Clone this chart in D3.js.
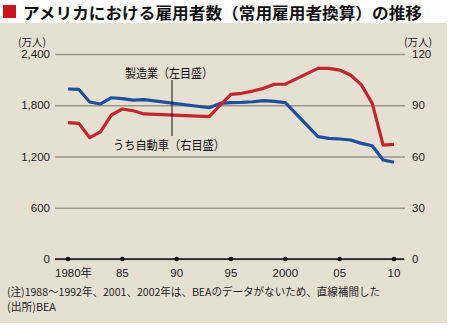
<!DOCTYPE html>
<html><head><meta charset="utf-8">
<script src="https://cdn.jsdelivr.net/npm/d3@7"></script>
<style>
body{margin:0;background:#fff;}
svg{display:block;font-family:"Liberation Sans","Noto Sans CJK JP",sans-serif;}
</style></head>
<body><svg id="c" width="450" height="328"></svg>
<script>
const years = [1980,1981,1982,1983,1984,1985,1986,1987,1993,1994,1995,1996,1997,1998,1999,2000,2003,2004,2005,2006,2007,2008,2009,2010];
const manufacturing = [1990,1985,1838,1815,1888,1877,1860,1865,1771,1822,1830,1834,1841,1854,1846,1830,1432,1413,1405,1393,1354,1326,1159,1132];
const automobile = [79.8,79.4,71,74.5,84.3,87.8,86.8,84.9,83.3,90,96.4,97,98.3,99.9,102.3,102.4,111.6,111.6,110.6,107.7,101.9,91.1,66.7,67.1];
const xTicks = [1980,1985,1990,1995,2000,2005,2010];
const xTickLabels = ["1980年","85","90","95","2000","05","10"];
const leftTicks = [0,600,1200,1800,2400];
const rightTicks = [0,30,60,90,120];
const title = "アメリカにおける雇用者数（常用雇用者換算）の推移";
const seriesLabels = ["製造業（左目盛）","うち自動車（右目盛）"];
const unitLabel = "(万人)";
const notes = ["(注)1988～1992年、2001、2002年は、BEAのデータがないため、直線補間した","(出所)BEA"];

const svg = d3.select("#c");
const jp = '"Noto Sans CJK JP",sans-serif';
// background panel
svg.append("rect").attr("x",0).attr("y",23).attr("width",447).attr("height",300).attr("fill","#e6e0d3");
// title
svg.append("rect").attr("x",3).attr("y",5).attr("width",13).attr("height",13).attr("fill","#c8171e");
svg.append("text").attr("x",23).attr("y",19).attr("font-family",jp).attr("font-weight","bold")
  .attr("font-size",16).attr("fill","#111")
  .attr("textLength",399).attr("lengthAdjust","spacingAndGlyphs").text(title);

const x = d3.scaleLinear().domain([1980,2010]).range([68,394]);
const yL = d3.scaleLinear().domain([0,2400]).range([259,54]);
const yR = d3.scaleLinear().domain([0,120]).range([259,54]);

// gridlines via left axis
const gl = svg.append("g").attr("transform","translate(55,0)")
  .call(d3.axisLeft(yL).tickValues(leftTicks).tickSize(-350).tickPadding(5).tickFormat(d3.format(",")));
gl.select(".domain").remove();
gl.selectAll(".tick line").attr("stroke","#9c958a").attr("stroke-width",1.5);
gl.selectAll(".tick text").attr("font-size",11.5).attr("fill","#222").attr("font-family","Liberation Sans,sans-serif");

const gr = svg.append("g").attr("transform","translate(405,0)")
  .call(d3.axisRight(yR).tickValues(rightTicks).tickSize(0).tickPadding(7));
gr.select(".domain").remove();
gr.selectAll(".tick text").attr("font-size",11.5).attr("fill","#222").attr("font-family","Liberation Sans,sans-serif");

// unit labels
svg.append("text").attr("x",18).attr("y",46).attr("font-family",jp).attr("font-size",10.5).attr("fill","#222").text(unitLabel);
svg.append("text").attr("x",404).attr("y",46).attr("font-family",jp).attr("font-size",10.5).attr("fill","#222").text(unitLabel);

// x axis
svg.append("line").attr("x1",55).attr("x2",404).attr("y1",yL(0)).attr("y2",yL(0)).attr("stroke","#111").attr("stroke-width",1.3);
svg.selectAll(".xdot").data(xTicks).join("circle").attr("cx",d=>x(d)).attr("cy",yL(0)).attr("r",2.3).attr("fill","#111");
svg.selectAll(".xlab").data(xTicks).join("text")
  .attr("x",d=>x(d)).attr("y",277).attr("font-size",11.5).attr("fill","#222")
  .attr("font-family",jp)
  .each(function(d,i){
    const t=d3.select(this);
    const lab=xTickLabels[i];
    if(lab.endsWith("年")){
      t.attr("text-anchor","start").attr("x",x(d)-13);
      t.append("tspan").attr("font-family","Liberation Sans,sans-serif").text(lab.slice(0,-1));
      t.append("tspan").text("年");
    } else {
      t.attr("text-anchor","middle").attr("font-family","Liberation Sans,sans-serif").text(lab);
    }
  });

// lines
const lineL = d3.line().x((d,i)=>x(years[i])).y(d=>yL(d));
const lineR = d3.line().x((d,i)=>x(years[i])).y(d=>yR(d));
svg.append("path").datum(manufacturing).attr("d",lineL).attr("fill","none").attr("stroke","#1c4f9c").attr("stroke-width",3.2).attr("stroke-linejoin","round");
svg.append("path").datum(automobile).attr("d",lineR).attr("fill","none").attr("stroke","#c1272d").attr("stroke-width",3.2).attr("stroke-linejoin","round");

// series labels with leader
svg.append("line").attr("x1",172).attr("x2",172).attr("y1",80).attr("y2",136).attr("stroke","#111").attr("stroke-width",1);
svg.append("text").attr("x",125).attr("y",78).attr("font-family",jp).attr("font-size",12.5).attr("fill","#111")
  .attr("textLength",88).attr("lengthAdjust","spacingAndGlyphs").text(seriesLabels[0]);
svg.append("text").attr("x",113).attr("y",150).attr("font-family",jp).attr("font-size",12.5).attr("fill","#111")
  .attr("textLength",112).attr("lengthAdjust","spacingAndGlyphs").text(seriesLabels[1]);

// notes
const noteLens=[373,null];
svg.selectAll(".note").data(notes).join("text").attr("x",7).attr("y",(d,i)=>296+i*15)
  .attr("font-family",jp).attr("font-size",10.8).attr("fill","#222")
  .each(function(d,i){ if(noteLens[i]) d3.select(this).attr("textLength",noteLens[i]).attr("lengthAdjust","spacingAndGlyphs"); })
  .text(d=>d);
</script></body></html>
